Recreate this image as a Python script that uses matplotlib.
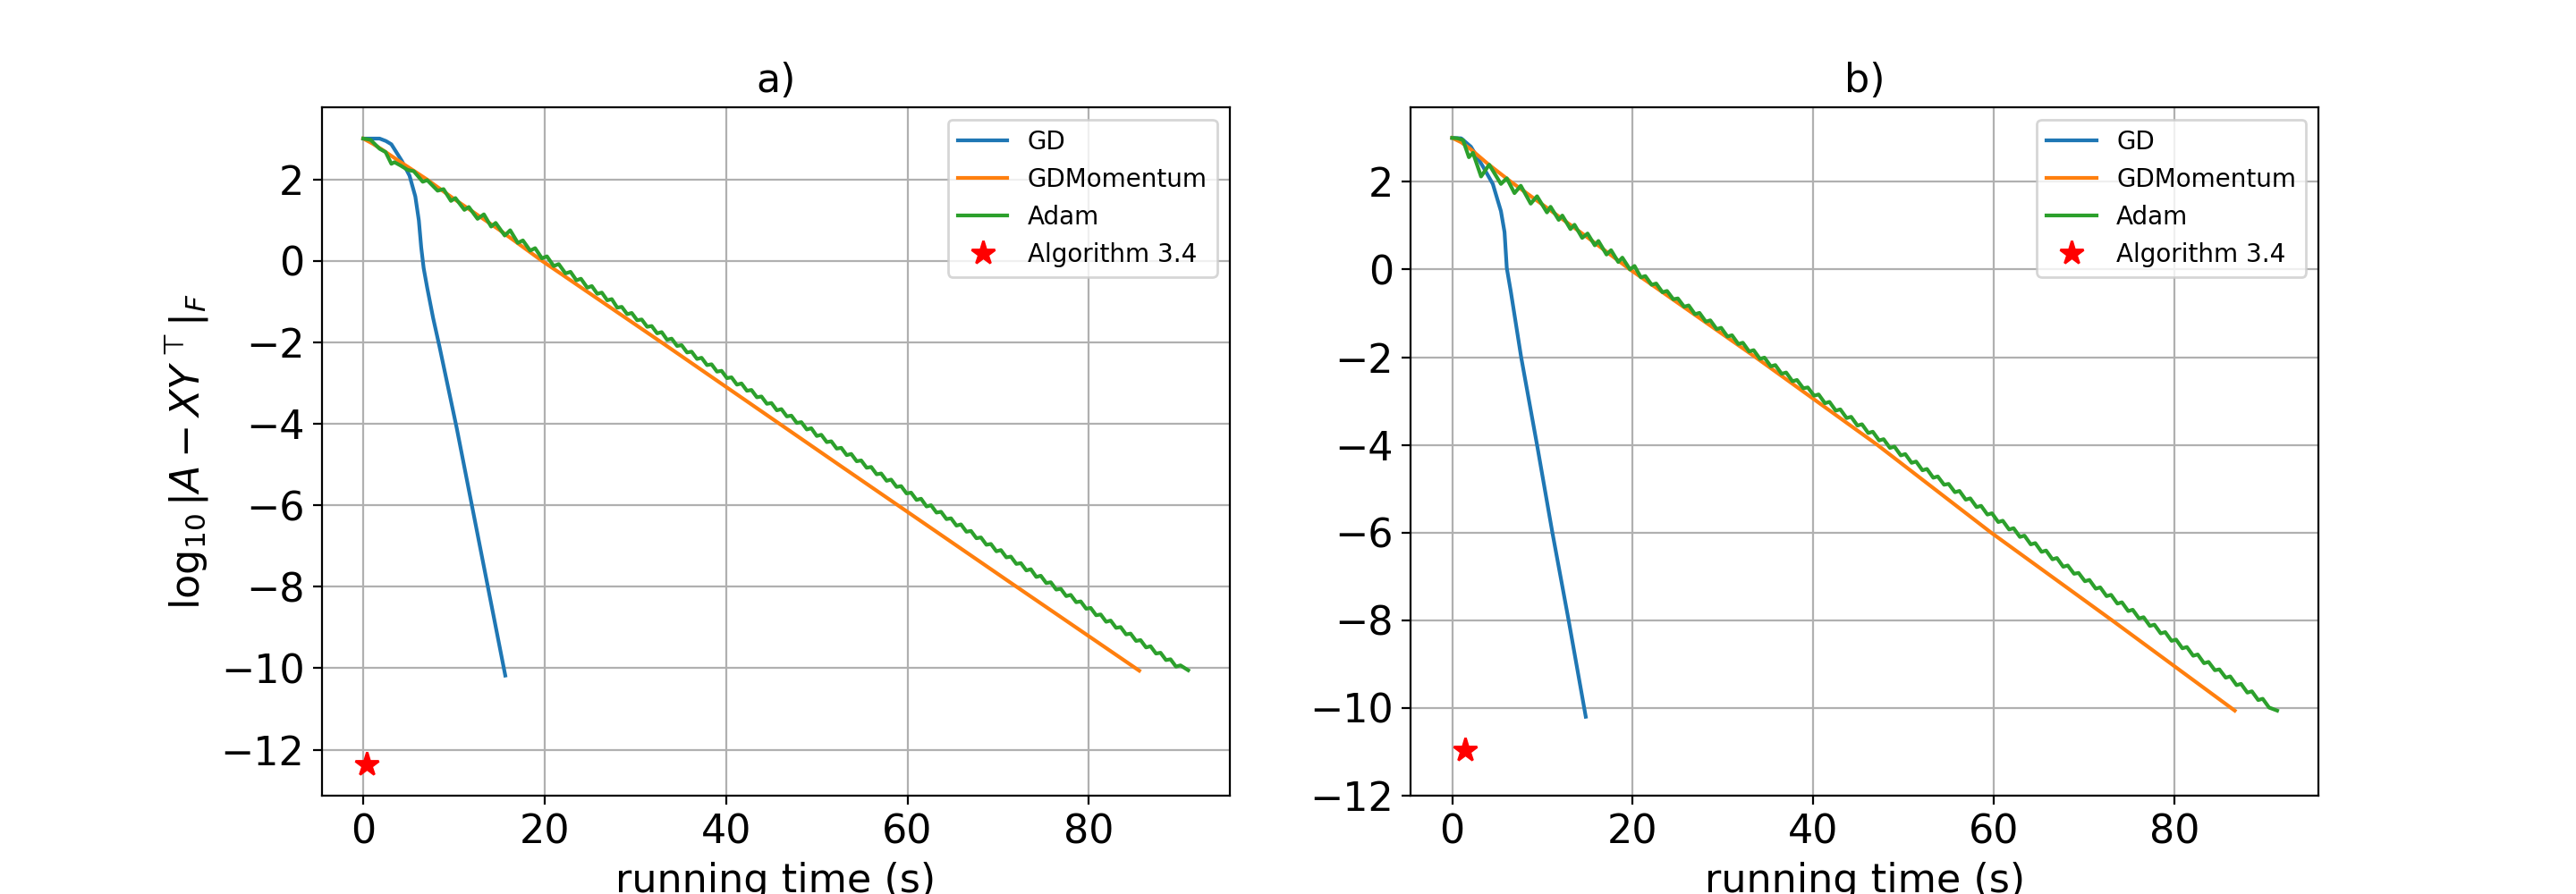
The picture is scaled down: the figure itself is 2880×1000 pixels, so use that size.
import numpy as np
import matplotlib
matplotlib.use("Agg")
import matplotlib.pyplot as plt
from matplotlib.ticker import MultipleLocator

# ---------------- data ----------------
titles = ["a)", "b)"]
series_labels = ["GD", "GDMomentum", "Adam", "Algorithm 3.4"]

# Panel a
gd_a = [(0.0, 3.00), (1.0, 3.00), (1.8, 3.00), (2.5, 2.94), (3.1, 2.86), (4.26, 2.45),
        (5.1, 2.09), (5.74, 1.58), (6.13, 0.99), (6.39, 0.33), (6.66, -0.18), (7.05, -0.66),
        (7.7, -1.40), (8.4, -2.10), (10.3, -4.10), (15.66, -10.18)]
mom_a = [(0.0, 3.00), (1.0, 2.88), (2.0, 2.74), (4.0, 2.44), (7.0, 2.00), (10.0, 1.52),
         (15.0, 0.76), (19.7, 0.00), (33.0, -2.02), (52.4, -5.00), (71.1, -7.86), (85.55, -10.06)]
adam_a = [(0.0, 3.00), (0.8, 2.97), (1.8, 2.75), (2.46, 2.67), (3.1, 2.38), (3.44, 2.42),
          (4.1, 2.34), (4.9, 2.23), (5.57, 2.20), (6.56, 1.94), (7.05, 1.98), (8.2, 1.72),
          (8.85, 1.76), (9.67, 1.47), (10.16, 1.54), (11.15, 1.25), (11.64, 1.32), (12.6, 1.03),
          (13.3, 1.14), (14.1, 0.84), (14.6, 0.93), (15.6, 0.62), (16.2, 0.75), (17.04, 0.44),
          (17.6, 0.50), (18.4, 0.25), (18.95, 0.31), (19.7, 0.06), (20.25, 0.11), (21.0, -0.13),
          (21.55, -0.08), (22.3, -0.31), (22.85, -0.27), (23.5, -0.48), (24.0, -0.44), (24.7, -0.66),
          (25.2, -0.62), (25.8, -0.81), (26.3, -0.78), (26.9, -0.97), (27.4, -0.94),
          (28.0, -1.15), (28.5, -1.13), (29.1, -1.31), (29.6, -1.28),
          (30.2, -1.46), (30.7, -1.44), (31.3, -1.62), (31.8, -1.60), (32.4, -1.78), (32.9, -1.75),
          (33.5, -1.94), (34.0, -1.91), (34.6, -2.09), (35.1, -2.07), (35.7, -2.25), (36.2, -2.23),
          (36.8, -2.41), (37.3, -2.38), (37.9, -2.56), (38.4, -2.54), (39.0, -2.72), (39.5, -2.70),
          (40.1, -2.88), (40.6, -2.86), (41.2, -3.04), (41.7, -3.01), (42.3, -3.19), (42.8, -3.17),
          (43.4, -3.35), (43.9, -3.33), (44.5, -3.51), (45.0, -3.49), (45.6, -3.67), (46.1, -3.64),
          (46.7, -3.82), (47.2, -3.80), (47.8, -3.98), (48.3, -3.96), (48.9, -4.14), (49.4, -4.11),
          (50.0, -4.30), (50.5, -4.27), (51.1, -4.45), (51.6, -4.43), (52.2, -4.61), (52.7, -4.59),
          (53.3, -4.77), (53.8, -4.74), (54.4, -4.92), (54.9, -4.90), (55.5, -5.08), (56.0, -5.06),
          (56.6, -5.24), (57.1, -5.22), (57.7, -5.40), (58.2, -5.37), (58.8, -5.55), (59.3, -5.53),
          (59.9, -5.71), (60.4, -5.69), (61.0, -5.87), (61.5, -5.84), (62.1, -6.03), (62.6, -6.00),
          (63.2, -6.18), (63.7, -6.16), (64.3, -6.34), (64.8, -6.32), (65.4, -6.50), (65.9, -6.47),
          (66.5, -6.65), (67.0, -6.63), (67.6, -6.81), (68.1, -6.79), (68.7, -6.97), (69.2, -6.95),
          (69.8, -7.13), (70.3, -7.10), (70.9, -7.28), (71.4, -7.26), (72.0, -7.44), (72.5, -7.42),
          (73.1, -7.60), (73.6, -7.57), (74.2, -7.76), (74.7, -7.73), (75.3, -7.91), (75.8, -7.89),
          (76.4, -8.07), (76.9, -8.05), (77.5, -8.23), (78.0, -8.20), (78.6, -8.38), (79.1, -8.36),
          (79.7, -8.54), (80.2, -8.52), (80.8, -8.70), (81.3, -8.68), (81.9, -8.86), (82.4, -8.83),
          (83.0, -9.01), (83.5, -8.99), (84.1, -9.17), (84.6, -9.15), (85.2, -9.33), (85.7, -9.31),
          (86.3, -9.49), (86.8, -9.46), (87.4, -9.64), (87.9, -9.62), (88.5, -9.80), (89.0, -9.78),
          (89.6, -9.96), (90.1, -9.93), (90.95, -10.05)]
alg_a = [(0.35, -12.36)]

# Panel b
gd_b = [(0.0, 3.00), (1.0, 2.99), (2.07, 2.80), (3.4, 2.35), (4.5, 1.95), (5.4, 1.33),
        (5.8, 0.85), (6.05, 0.03), (6.5, -0.51), (7.64, -2.00), (9.4, -4.00), (11.1, -6.00),
        (12.9, -8.00), (14.8, -10.20)]
mom_b = [(0.0, 3.00), (1.0, 2.90), (2.0, 2.75), (4.0, 2.40), (6.5, 2.00), (10.0, 1.48),
         (15.0, 0.73), (19.7, 0.00), (33.6, -2.00), (47.1, -4.00), (59.7, -6.00), (73.1, -8.00),
         (86.7, -10.06)]
adam_b = [(0.0, 3.00), (0.6, 2.99), (1.2, 2.95), (1.85, 2.56), (2.3, 2.66), (3.2, 2.12), (4.1, 2.39),
          (5.4, 1.95), (6.05, 2.08), (6.9, 1.74), (7.6, 1.91), (8.7, 1.50), (9.4, 1.67), (10.5, 1.30),
          (10.9, 1.43), (11.8, 1.13), (12.2, 1.23), (13.1, 0.92), (13.55, 1.02), (14.4, 0.72),
          (15.0, 0.82), (15.8, 0.55), (16.2, 0.65), (17.1, 0.34), (17.6, 0.44), (18.4, 0.17),
          (18.85, 0.27), (19.7, 0.00), (20.2, 0.08), (20.9, -0.18), (21.4, -0.15), (22.1, -0.35),
          (22.6, -0.32), (23.3, -0.52), (23.8, -0.49), (24.5, -0.68), (25.0, -0.66), (25.7, -0.85),
          (26.2, -0.82), (26.9, -1.02), (27.4, -0.99), (28.1, -1.19), (28.6, -1.16), (29.3, -1.36),
          (29.8, -1.33), (30.5, -1.53), (31.0, -1.50), (31.7, -1.70), (32.2, -1.67), (32.9, -1.87),
          (33.4, -1.84), (34.1, -2.04), (34.6, -2.01), (35.3, -2.21), (35.8, -2.18), (36.5, -2.38),
          (37.0, -2.35), (37.7, -2.55), (38.2, -2.52), (38.9, -2.71), (39.4, -2.69), (40.1, -2.88),
          (40.6, -2.85), (41.3, -3.05), (41.8, -3.02), (42.5, -3.22), (43.0, -3.19), (43.7, -3.39),
          (44.2, -3.36), (44.9, -3.56), (45.4, -3.53), (46.1, -3.73), (46.6, -3.70), (47.3, -3.90),
          (47.8, -3.87), (48.5, -4.07), (49.0, -4.04), (49.7, -4.24), (50.2, -4.21), (50.9, -4.41),
          (51.4, -4.38), (52.1, -4.58), (52.6, -4.55), (53.3, -4.75), (53.8, -4.72), (54.5, -4.91),
          (55.0, -4.89), (55.7, -5.08), (56.2, -5.05), (56.9, -5.25), (57.4, -5.22), (58.1, -5.42),
          (58.6, -5.39), (59.3, -5.59), (59.8, -5.56), (60.5, -5.76), (61.0, -5.73), (61.7, -5.93),
          (62.2, -5.90), (62.9, -6.10), (63.4, -6.07), (64.1, -6.27), (64.6, -6.24), (65.3, -6.44),
          (65.8, -6.41), (66.5, -6.61), (67.0, -6.58), (67.7, -6.78), (68.2, -6.75), (68.9, -6.94),
          (69.4, -6.92), (70.1, -7.11), (70.6, -7.08), (71.3, -7.28), (71.8, -7.25), (72.5, -7.45),
          (73.0, -7.42), (73.7, -7.62), (74.2, -7.59), (74.9, -7.79), (75.4, -7.76), (76.1, -7.96),
          (76.6, -7.93), (77.3, -8.13), (77.8, -8.10), (78.5, -8.30), (79.0, -8.27), (79.7, -8.47),
          (80.2, -8.44), (80.9, -8.64), (81.4, -8.61), (82.1, -8.81), (82.6, -8.78), (83.3, -8.98),
          (83.8, -8.95), (84.5, -9.14), (85.0, -9.12), (85.7, -9.31), (86.2, -9.28), (86.9, -9.48),
          (87.4, -9.45), (88.1, -9.65), (88.6, -9.62), (89.3, -9.82), (89.8, -9.79), (90.5, -9.99),
          (91.4, -10.06)]
alg_b = [(1.4, -10.97)]

panels = [
    (gd_a, mom_a, adam_a, alg_a),
    (gd_b, mom_b, adam_b, alg_b),
]

# ---------------- plotting ----------------
fig, axes = plt.subplots(1, 2, figsize=(14.4, 5), dpi=200)

for i, (ax, (gd, mom, adam, alg)) in enumerate(zip(axes, panels)):
    for series, label in zip((gd, mom, adam), series_labels[:3]):
        t, y = zip(*series)
        ax.plot(t, y, label=label, linewidth=1.5)
    t, y = zip(*alg)
    ax.plot(t, y, linestyle="none", marker="*", color="red", markersize=10,
            label=series_labels[3])
    ax.grid(True)
    ax.set_title(titles[i], fontsize=16)
    ax.set_xlabel("running time (s)", fontsize=16)
    ax.tick_params(labelsize=16)
    ax.yaxis.set_major_locator(MultipleLocator(2))
    ax.xaxis.set_major_locator(MultipleLocator(20))
    ax.legend(loc="upper right", fontsize=10)

axes[0].set_ylabel(r"$\log_{10}|A-XY^{\top}|_F$", fontsize=16)
axes[1].set_ylim(bottom=-12)

fig.savefig("out.png", dpi=200)
